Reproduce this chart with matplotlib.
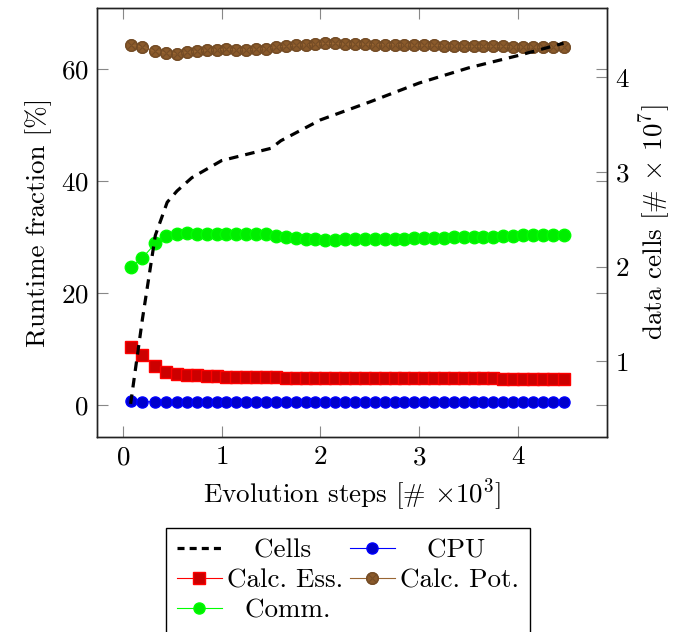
import matplotlib
matplotlib.use("Agg")
import matplotlib.pyplot as plt
from matplotlib.lines import Line2D

plt.rcParams['font.family'] = 'cmr10'
plt.rcParams['mathtext.fontset'] = 'cm'
plt.rcParams['axes.unicode_minus'] = False
plt.rcParams['axes.formatter.use_mathtext'] = True

# evolution steps [x10^3]
steps = [0.08, 0.2, 0.33, 0.44, 0.55, 0.65, 0.75, 0.85, 0.95, 1.05, 1.15,
         1.25, 1.35, 1.45, 1.55, 1.65, 1.75, 1.85, 1.95, 2.05, 2.15, 2.25,
         2.35, 2.45, 2.55, 2.65, 2.75, 2.85, 2.95, 3.05, 3.15, 3.25, 3.35,
         3.45, 3.55, 3.65, 3.75, 3.85, 3.95, 4.05, 4.15, 4.25, 4.35, 4.46]

# runtime fractions [%]
cpu = [0.7, 0.6, 0.6, 0.6, 0.6, 0.6, 0.6, 0.6, 0.6, 0.6, 0.6,
       0.6, 0.6, 0.6, 0.6, 0.6, 0.6, 0.6, 0.6, 0.6, 0.6, 0.6,
       0.6, 0.6, 0.6, 0.6, 0.6, 0.6, 0.6, 0.6, 0.6, 0.6, 0.6,
       0.6, 0.6, 0.6, 0.6, 0.6, 0.6, 0.6, 0.6, 0.6, 0.6, 0.6]
calc_ess = [10.4, 9.0, 7.0, 6.0, 5.6, 5.4, 5.3, 5.2, 5.15, 5.1, 5.05,
            5.0, 5.0, 4.95, 4.95, 4.9, 4.9, 4.9, 4.9, 4.85, 4.85, 4.85,
            4.85, 4.8, 4.8, 4.8, 4.8, 4.8, 4.8, 4.8, 4.8, 4.8, 4.8,
            4.8, 4.8, 4.8, 4.8, 4.75, 4.75, 4.75, 4.75, 4.75, 4.75, 4.75]
calc_pot = [64.3, 64.0, 63.2, 62.9, 62.8, 63.0, 63.2, 63.4, 63.5, 63.6, 63.5,
            63.5, 63.6, 63.7, 64.0, 64.1, 64.3, 64.4, 64.5, 64.6, 64.6, 64.5,
            64.5, 64.5, 64.4, 64.4, 64.4, 64.4, 64.3, 64.3, 64.3, 64.2, 64.2,
            64.1, 64.1, 64.1, 64.1, 64.1, 64.0, 64.0, 64.0, 63.9, 64.0, 64.0]
comm = [24.6, 26.3, 28.9, 30.2, 30.6, 30.7, 30.6, 30.5, 30.5, 30.5, 30.5,
        30.6, 30.6, 30.5, 30.2, 30.0, 29.8, 29.7, 29.6, 29.5, 29.5, 29.6,
        29.6, 29.6, 29.6, 29.7, 29.7, 29.7, 29.8, 29.8, 29.9, 29.9, 30.0,
        30.0, 30.1, 30.1, 30.1, 30.2, 30.2, 30.3, 30.3, 30.3, 30.3, 30.3]

# data cells [x10^7]
cells_steps = [0.08, 0.2, 0.33, 0.45, 0.55, 0.7, 1.0, 1.5, 1.6, 2.0, 2.5,
               3.0, 3.5, 4.0, 4.46]
cells = [0.55, 1.45, 2.33, 2.68, 2.8, 2.94, 3.12, 3.25, 3.33, 3.55, 3.74,
         3.94, 4.1, 4.23, 4.36]

fs = 19.5
fig = plt.figure(figsize=(6.76, 6.32), dpi=100)
ax = fig.add_axes([0.1435, 0.3085, 0.7545, 0.6785])
ax2 = ax.twinx()

ms = 8
ax.plot(steps, cpu, color='blue', lw=0.8, marker='o', ms=ms,
        mfc='#0000cc', mec='blue', label='CPU', zorder=3)
ax.plot(steps, calc_ess, color='red', lw=0.8, marker='s', ms=ms,
        mfc='#cc0000', mec='red', label='Calc. Ess.', zorder=3)
ax.plot(steps, calc_pot, color='#996633', lw=0.8, marker='$\\otimes$', ms=ms + 1,
        mfc='#8a5a2b', mec='#6e4824', mew=0.3, label='Calc. Pot.', zorder=3)
ax.plot(steps, calc_pot, color='#996633', lw=0, marker='o', ms=ms,
        mfc='#8a5a2b', mec='#7a5026', zorder=2.9)
ax.plot(steps, comm, color='#00ff00', lw=0.8, marker='o', ms=ms + 1,
        mfc='#00ee00', mec='#00ff00', label='Comm.', zorder=3)

ax2.plot(cells_steps, cells, color='black', lw=2.3, ls=(0, (3, 2.2)),
         label='Cells', zorder=5)

ax.set_xlim(-0.26, 4.9)
ax.set_ylim(-5.7, 70.9)
ax2.set_ylim(0.2, 4.73)
ax.set_xticks([0, 1, 2, 3, 4])
ax.set_yticks([0, 20, 40, 60])
ax2.set_yticks([1, 2, 3, 4])

ax.set_xlabel(r'Evolution steps [# $\times$10$^3$]', fontsize=fs, labelpad=5)
ax.set_ylabel('Runtime fraction [%]', fontsize=fs, labelpad=6)
ax2.set_ylabel(r'data cells [# $\times$ 10$^7$]', fontsize=fs, labelpad=5)

for a in (ax, ax2):
    a.tick_params(direction='in', length=8, width=0.8, color='#888888',
                  labelsize=fs, pad=6)
    for s in a.spines.values():
        s.set_color('#222222')
        s.set_linewidth(1.0)
ax.tick_params(top=True, right=True)
ax2.tick_params(right=True)

# legend: filled brown disc with a cross on top, like the plotted marks
pot_disc = Line2D([], [], color='#996633', lw=0.8, marker='o', ms=ms,
                  mfc='#8a5a2b', mec='#7a5026')
pot_cross = Line2D([], [], color='#996633', lw=0, marker='$\\otimes$', ms=ms + 1,
                   mfc='#8a5a2b', mec='#6e4824', mew=0.3)
handles = [
    Line2D([], [], color='black', lw=2.3, ls=(0, (2.2, 1.6))),
    Line2D([], [], color='red', lw=0.8, marker='s', ms=ms, mfc='#cc0000', mec='red'),
    Line2D([], [], color='#00ff00', lw=0.8, marker='o', ms=ms, mfc='#00ee00', mec='#00ff00'),
    Line2D([], [], color='blue', lw=0.8, marker='o', ms=ms, mfc='#0000cc', mec='blue'),
    (pot_disc, pot_cross),
]
labels = ['   Cells', 'Calc. Ess.', '  Comm.', '   CPU', 'Calc. Pot.']
leg = fig.legend(handles, labels, loc='upper center', bbox_to_anchor=(0.515, 0.186),
                 ncol=2, fontsize=fs, frameon=True, fancybox=False, framealpha=1,
                 edgecolor='black', handlelength=1.65, handletextpad=0.2,
                 columnspacing=0.25, labelspacing=0.22, borderpad=0.4)
leg.get_frame().set_linewidth(1.0)

fig.savefig('out.png', dpi=100)
